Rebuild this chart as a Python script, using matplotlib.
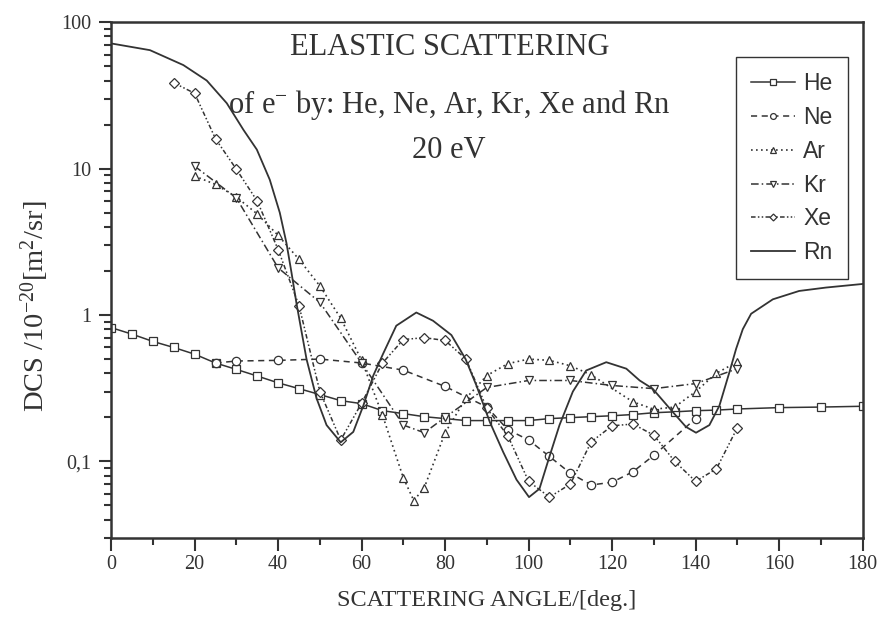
import matplotlib
matplotlib.use("Agg")
import matplotlib.pyplot as plt
from matplotlib.ticker import FixedLocator, FixedFormatter, LogLocator, NullFormatter, MultipleLocator

# angles in degrees, DCS in 1e-20 m^2/sr
he_angle = [0, 5, 10, 15, 20, 25, 30, 35, 40, 45, 50, 55, 60, 65, 70, 75, 80, 85, 90,
            95, 100, 105, 110, 115, 120, 125, 130, 135, 140, 145, 150, 160, 170, 180]
he_dcs = [0.82, 0.74, 0.66, 0.60, 0.54, 0.47, 0.425, 0.383, 0.344, 0.314, 0.286, 0.26,
          0.248, 0.222, 0.212, 0.202, 0.196, 0.19, 0.19, 0.19, 0.19, 0.196, 0.199, 0.202,
          0.205, 0.209, 0.215, 0.218, 0.222, 0.224, 0.228, 0.233, 0.235, 0.238]

ne_angle = [25, 30, 40, 50, 60, 70, 80, 90, 95, 100, 105, 110, 115, 120, 125, 130, 140]
ne_dcs = [0.47, 0.485, 0.49, 0.50, 0.47, 0.42, 0.325, 0.235, 0.165, 0.14, 0.108, 0.083,
          0.069, 0.072, 0.085, 0.11, 0.196]

ar_angle = [20, 25, 30, 35, 40, 45, 50, 55, 60, 65, 70, 72.5, 75, 80, 85, 90, 95, 100,
            105, 110, 115, 125, 130, 135, 140, 145, 150]
ar_dcs = [8.9, 7.8, 6.4, 4.9, 3.5, 2.4, 1.58, 0.95, 0.49, 0.207, 0.077, 0.054, 0.066,
          0.157, 0.27, 0.386, 0.465, 0.50, 0.49, 0.45, 0.39, 0.255, 0.227, 0.235, 0.30,
          0.40, 0.48]

kr_angle = [20, 30, 40, 50, 60, 70, 75, 80, 90, 100, 110, 120, 130, 140, 150]
kr_dcs = [10.4, 6.3, 2.1, 1.22, 0.47, 0.177, 0.157, 0.20, 0.32, 0.357, 0.357, 0.33,
          0.314, 0.34, 0.43]

xe_angle = [15, 20, 25, 30, 35, 40, 45, 50, 55, 60, 65, 70, 75, 80, 85, 90, 95, 100,
            105, 110, 115, 120, 125, 130, 135, 140, 145, 150]
xe_dcs = [38.6, 32.7, 16.0, 9.9, 6.0, 2.8, 1.16, 0.30, 0.14, 0.25, 0.47, 0.68, 0.70,
          0.67, 0.50, 0.23, 0.15, 0.073, 0.057, 0.070, 0.136, 0.175, 0.18, 0.151, 0.10,
          0.073, 0.089, 0.17]

rn_angle = [0, 9.3, 17.3, 22.9, 27.7, 31.7, 34.9, 38, 40.4, 42, 43.2, 44.4, 46.8, 49.2,
            51.6, 55, 58, 60.4, 62.8, 65.1, 68.3, 73.1, 77.1, 81.5, 84.9, 87.5, 90.7,
            93.9, 97.1, 100.1, 102.6, 105, 107.4, 110.6, 113.8, 118.6, 123.4, 126.6,
            129.7, 134.5, 137.7, 140.1, 143.3, 145.7, 148.1, 149.7, 151.3, 153.3, 158.5,
            164.8, 171.2, 180]
rn_dcs = [71.7, 64.5, 51, 40, 28, 18.4, 13.5, 8.4, 5.0, 3.1, 1.95, 1.2, 0.50, 0.27,
          0.177, 0.135, 0.159, 0.24, 0.386, 0.54, 0.845, 1.04, 0.914, 0.73, 0.50, 0.33,
          0.186, 0.116, 0.075, 0.057, 0.065, 0.108, 0.177, 0.30, 0.418, 0.476, 0.43,
          0.357, 0.314, 0.218, 0.172, 0.157, 0.177, 0.24, 0.407, 0.587, 0.80, 1.02, 1.28,
          1.46, 1.54, 1.63]

y_ticks = [0.1, 1, 10, 100]
y_tick_labels = ["0,1", "1", "10", "100"]

SERIF = "Liberation Serif"
SANS = "Liberation Sans"
INK = "#333333"

plt.rcParams["font.family"] = SERIF
plt.rcParams["mathtext.fontset"] = "custom"
plt.rcParams["mathtext.rm"] = SERIF
plt.rcParams["mathtext.it"] = SERIF + ":italic"

fig = plt.figure(figsize=(8.82, 6.19), dpi=100)
ax = fig.add_axes([0.126, 0.131, 0.852, 0.833])

mk = dict(markerfacecolor="white", markeredgecolor=INK, markeredgewidth=0.9, color=INK)
ax.plot(he_angle, he_dcs, "-", marker="s", markersize=5.5, lw=1.1, label="He", **mk)
ax.plot(ne_angle, ne_dcs, marker="o", markersize=6, lw=1.1, dashes=(4, 3), label="Ne", **mk)
ax.plot(ar_angle, ar_dcs, marker="^", markersize=6, lw=1.2, dashes=(1, 2), label="Ar", **mk)
ax.plot(kr_angle, kr_dcs, marker="v", markersize=6, lw=1.1, dashes=(5, 2, 1, 2), label="Kr", **mk)
ax.plot(xe_angle, xe_dcs, marker="D", markersize=5, lw=1.1,
        dashes=(3, 1.5, 1, 1.5, 1, 1.5), label="Xe", **mk)
ax.plot(rn_angle, rn_dcs, "-", color=INK, lw=1.3, label="Rn")

ax.set_yscale("log")
ax.set_xlim(0, 180)
ax.set_ylim(0.03, 100)

ax.xaxis.set_major_locator(MultipleLocator(20))
ax.xaxis.set_minor_locator(MultipleLocator(10))
ax.yaxis.set_major_locator(FixedLocator(y_ticks))
ax.yaxis.set_major_formatter(FixedFormatter(y_tick_labels))
ax.yaxis.set_minor_locator(LogLocator(base=10, subs=range(2, 10)))
ax.yaxis.set_minor_formatter(NullFormatter())

ax.tick_params(which="major", direction="out", length=9, width=1.5, colors=INK,
               labelsize=14.5, labelcolor=INK)
ax.tick_params(axis="y", which="major", pad=5)
ax.tick_params(axis="x", which="major", pad=3)
ax.tick_params(which="minor", direction="out", length=5, width=1.5, colors=INK)
ax.tick_params(top=False, right=False, which="both")
for s in ax.spines.values():
    s.set_linewidth(1.8)
    s.set_color(INK)

ax.set_xlabel("SCATTERING ANGLE/[deg.]", fontsize=17.5, color=INK, labelpad=12)
ax.set_ylabel("DCS /10$^{\\mathrm{-20}}$[m$^{\\mathrm{2}}$/sr]", fontsize=20.5, color=INK)
ax.yaxis.set_label_coords(-0.08, 0.45)

ax.text(0.45, 0.951, "ELASTIC SCATTERING", transform=ax.transAxes, ha="center",
        va="center", fontsize=22, color=INK)
ax.text(0.45, 0.839, "of e$^{\\mathrm{-}}$ by: He, Ne, Ar, Kr, Xe and Rn",
        transform=ax.transAxes, ha="center", va="center", fontsize=22, color=INK)
ax.text(0.45, 0.752, "20 eV", transform=ax.transAxes, ha="center", va="center",
        fontsize=22, color=INK)

leg = ax.legend(loc="upper right", bbox_to_anchor=(0.98, 0.932), borderaxespad=0,
                prop={"family": SANS, "size": 16.5}, numpoints=1, markerscale=0.7,
                handlelength=1.95, handletextpad=0.35, labelspacing=0.47,
                borderpad=0.65, fancybox=False, framealpha=1, edgecolor=INK)
leg.get_frame().set_linewidth(1.0)
for t in leg.get_texts():
    t.set_color(INK)

fig.savefig("out.png", dpi=100)
